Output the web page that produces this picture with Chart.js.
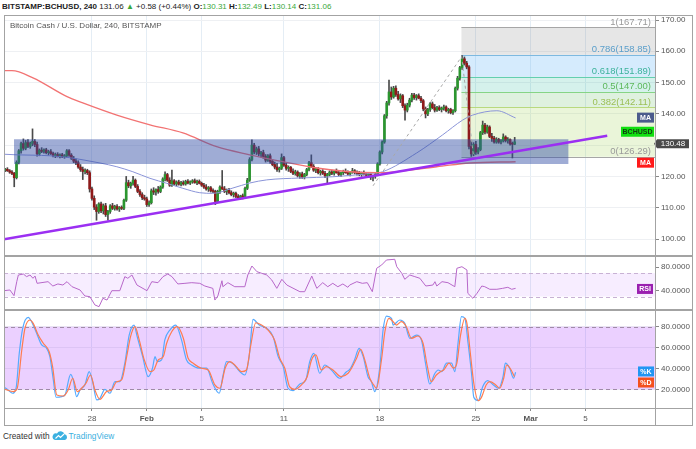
<!DOCTYPE html>
<html>
<head>
<meta charset="utf-8">
<script src="https://cdn.jsdelivr.net/npm/chart.js@4.4.0/dist/chart.umd.min.js"></script>
<style>
  body { margin:0; background:#fff; width:696px; height:449px; overflow:hidden; position:relative;
         font-family:"Liberation Sans", Arial, sans-serif; }
  .pane { position:absolute; left:4px; width:688px; }
  #mainWrap { top:15px; height:241px; }
  #rsiWrap { top:256px; height:54px; }
  #stochWrap { top:310px; height:115px; }
  .ln { position:absolute; background:#a3a3a3; z-index:5; }
  #frame { position:absolute; left:4px; top:15px; width:687px; height:409px; border:1px solid #a3a3a3; z-index:5; }
  #hdr { position:absolute; left:2px; top:2px; font-size:8px; white-space:nowrap; color:#222; }
  #hdr .g { color:#3aa83a; }
  #title { position:absolute; left:10px; top:21px; font-size:8px; color:#555; z-index:6; }
  #foot { position:absolute; left:3px; top:431px; font-size:8.3px; color:#333; white-space:nowrap; }
  #foot .tv { color:#3bb0e0; }
  #foot svg { vertical-align:-2px; margin:0 1px 0 2px; }
</style>
</head>
<body>
<div id="hdr"><b>BITSTAMP:BCHUSD, 240</b> 131.06 <span class="g">&#9650;</span> +0.58 (+0.44%) <b>O:</b><span class="g">130.31</span> <b>H:</b><span class="g">132.49</span> <b>L:</b><span class="g">130.14</span> <b>C:</b><span class="g">131.06</span></div>
<div id="title">Bitcoin Cash / U.S. Dollar, 240, BITSTAMP</div>

<div class="pane" id="mainWrap"><canvas id="main"></canvas></div>
<div class="pane" id="rsiWrap"><canvas id="rsi"></canvas></div>
<div class="pane" id="stochWrap"><canvas id="stoch"></canvas></div>

<div id="frame"></div>
<div class="ln" style="left:655px;top:15px;width:1px;height:410px"></div>
<div class="ln" style="left:4px;top:255px;width:688px;height:2px"></div>
<div class="ln" style="left:4px;top:309px;width:688px;height:2px"></div>
<div class="ln" style="left:4px;top:408px;width:688px;height:1px"></div>

<div id="foot">Created with<svg width="16" height="10" viewBox="0 0 16 10"><path d="M3 9 H13 A3 3 0 0 0 12.5 3.2 A4 4 0 0 0 5 2.5 A3.3 3.3 0 0 0 3 9 Z" fill="#3bb0e0"/><path d="M3.5 7.5 L6.5 4.5 L8.5 6.5 L12 3" stroke="#fff" stroke-width="1.1" fill="none"/></svg><span class="tv">TradingView</span></div>

<script>
/* DATA */
// bar index 0 = Jan 21 16:00, one bar = 4 hours
const candles = [ // [open, high, low, close]
[122.0,122.6,121.5,122.3],[122.3,122.8,121.6,121.8],[121.8,122.2,121.0,121.4],[121.4,121.9,120.6,121.0],[121.0,121.3,116.7,119.6],[119.6,125.0,119.2,124.5],
[124.5,128.6,124.0,128.2],[128.2,131.0,127.4,130.5],[130.5,132.0,128.4,129.0],[129.0,131.5,128.5,130.8],[130.8,131.8,129.2,129.6],[129.6,131.0,129.0,130.6],
[130.6,135.2,129.8,131.2],[131.2,131.8,129.5,130.2],[130.2,131.0,126.5,127.2],[127.2,128.8,126.6,128.4],[128.4,129.2,127.6,128.0],[128.0,128.8,127.4,128.5],
[128.5,129.0,127.2,127.6],[127.6,128.4,126.8,127.9],[127.9,128.6,127.0,127.3],[127.3,127.8,126.2,126.6],[126.6,127.5,126.0,127.0],[127.0,127.6,126.2,126.4],
[126.4,127.2,125.9,126.9],[126.9,127.4,126.0,126.3],[126.3,127.0,125.8,126.6],[126.6,128.6,126.2,128.2],[128.2,128.6,126.4,126.8],[126.8,127.3,125.4,125.8],
[125.8,126.4,124.4,124.9],[124.9,125.6,123.8,124.4],[124.4,125.0,122.6,123.0],[123.0,123.8,121.6,122.2],[122.2,123.0,119.0,121.6],[121.6,122.4,120.8,121.9],
[121.9,122.3,120.6,121.2],[121.2,121.8,115.0,116.0],[116.0,116.6,112.4,113.0],[113.0,113.8,109.4,110.2],[110.2,111.0,106.0,108.8],[108.8,111.6,108.2,111.2],
[111.2,111.8,108.4,109.0],[109.0,111.2,108.0,110.6],[110.6,111.4,107.2,107.8],[107.8,109.2,106.0,108.8],[108.8,111.0,108.2,110.6],[110.6,111.4,109.4,109.8],
[109.8,110.8,109.2,110.4],[110.4,111.0,109.2,109.6],[109.6,110.4,108.8,110.0],[110.0,110.6,109.4,109.8],[109.8,112.8,109.4,112.4],[112.4,120.0,112.0,118.0],
[118.0,118.8,116.4,117.0],[117.0,118.2,116.2,117.8],[117.8,120.0,117.2,118.8],[118.8,119.2,116.4,116.8],[116.8,117.4,114.8,115.2],[115.2,115.8,113.6,114.2],
[114.2,114.8,112.6,113.2],[113.2,114.0,112.4,112.8],[112.8,113.4,110.4,111.0],[111.0,112.2,110.4,111.6],[111.6,116.0,111.2,115.4],[115.4,116.4,114.2,115.0],
[115.0,116.0,114.0,115.8],[115.8,116.8,114.6,115.2],[115.2,117.0,114.8,116.6],[116.6,119.6,116.2,119.2],[119.2,121.5,118.6,120.6],[120.6,121.0,118.4,118.8],
[118.8,119.6,116.8,117.2],[117.2,122.0,116.8,118.6],[118.6,119.0,117.2,117.6],[117.6,118.6,117.0,118.2],[118.2,118.8,117.2,117.5],[117.5,118.4,117.0,118.0],
[118.0,118.6,117.2,117.6],[117.6,118.8,117.2,118.4],[118.4,119.0,117.6,117.9],[117.9,118.6,117.4,118.3],[118.3,119.0,117.8,118.6],[118.6,119.2,117.8,118.0],
[118.0,118.8,117.4,118.4],[118.4,118.9,117.6,117.8],[117.8,118.2,116.8,117.2],[117.2,117.8,116.2,116.6],[116.6,117.4,115.6,116.0],[116.0,116.8,115.2,116.4],
[116.4,116.8,115.0,115.4],[115.4,116.0,114.8,115.2],[115.2,115.6,111.0,112.0],[112.0,115.6,111.6,115.2],[115.2,117.0,114.6,116.6],[116.6,121.9,115.8,116.0],
[116.0,116.8,114.8,115.2],[115.2,116.0,114.2,115.6],[115.6,116.2,114.4,114.8],[114.8,115.4,113.8,114.2],[114.2,115.0,113.4,114.6],[114.6,115.0,113.2,113.6],
[113.6,114.2,112.8,113.2],[113.2,114.0,112.6,113.8],[113.8,114.4,112.8,113.4],[113.4,116.6,113.0,116.2],[116.2,119.4,115.8,118.8],[118.8,126.0,118.4,125.4],
[125.4,131.7,125.0,130.0],[130.0,130.6,127.2,127.8],[127.8,129.4,127.0,128.8],[128.8,129.6,126.6,127.2],[127.2,128.0,126.2,127.6],[127.6,128.4,125.8,126.4],
[126.4,127.0,124.6,125.2],[125.2,127.0,124.8,126.6],[126.6,127.2,124.2,124.8],[124.8,125.4,123.4,123.8],[123.8,124.6,122.4,123.0],[123.0,124.2,121.6,122.2],
[122.2,123.0,121.4,122.6],[122.6,127.2,122.2,126.0],[126.0,126.4,123.2,123.6],[123.6,124.2,122.0,122.6],[122.6,123.4,121.6,122.9],[122.9,123.2,121.2,121.6],
[121.6,122.4,120.6,121.0],[121.0,122.0,120.4,121.4],[121.4,121.8,119.8,120.2],[120.2,121.2,119.4,120.8],[120.8,121.4,119.4,119.8],[119.8,121.0,119.2,120.6],
[120.6,122.6,120.2,122.2],[122.2,124.8,121.8,124.4],[124.4,126.9,122.8,123.2],[123.2,123.8,121.6,122.0],[122.0,122.8,121.2,122.4],[122.4,122.8,120.8,121.2],
[121.2,122.0,120.4,121.6],[121.6,122.2,120.6,121.0],[121.0,121.6,119.6,120.2],[120.2,121.0,118.0,120.6],[120.6,121.8,120.2,121.4],[121.4,122.0,120.6,121.0],
[121.0,121.8,120.4,121.6],[121.6,122.4,121.0,121.2],[121.2,121.8,120.2,120.6],[120.6,121.4,120.0,121.2],[121.2,122.0,120.6,121.6],[121.6,122.4,121.0,121.2],
[121.2,121.8,120.4,120.8],[120.8,121.6,120.2,121.4],[121.4,122.6,121.0,121.8],[121.8,122.2,120.8,121.2],[121.2,121.8,120.4,121.0],[121.0,121.6,120.2,120.6],
[120.6,121.4,120.0,121.2],[121.2,121.8,120.4,120.8],[120.8,121.2,119.8,120.4],[120.4,121.0,119.6,120.6],[120.6,121.0,119.0,119.8],[119.8,120.4,118.6,120.2],
[120.2,121.0,119.4,120.6],[120.6,124.4,120.2,124.0],[124.0,128.2,123.6,127.8],[127.8,131.4,127.2,131.0],[131.0,139.8,130.6,139.4],[139.4,144.0,138.6,143.5],
[143.5,150.8,142.8,147.0],[147.0,148.6,144.6,145.4],[145.4,148.8,145.0,148.2],[148.2,149.0,145.6,146.2],[146.2,147.2,144.4,144.8],[144.8,146.4,143.6,145.8],
[145.8,146.2,142.0,142.6],[142.6,143.2,138.0,141.2],[141.2,143.4,140.6,142.8],[142.8,145.0,142.2,144.4],[144.4,146.6,143.8,146.0],[146.0,146.6,144.6,145.2],
[145.2,146.2,144.4,145.8],[145.8,146.4,144.8,145.0],[145.0,145.6,143.6,144.2],[144.2,144.6,141.0,141.6],[141.6,142.2,138.7,140.0],[140.0,141.8,139.4,141.4],
[141.4,143.6,140.8,143.2],[143.2,143.8,141.6,142.0],[142.0,143.0,140.6,141.2],[141.2,142.4,140.8,142.0],[142.0,142.6,141.0,141.4],[141.4,142.2,140.6,141.8],
[141.8,142.8,141.2,142.2],[142.2,142.6,140.6,141.0],[141.0,141.8,140.2,141.4],[141.4,141.8,140.0,140.4],[140.4,141.4,139.8,141.0],[141.0,148.6,140.6,148.2],
[148.2,152.0,147.6,151.4],[151.4,155.2,150.8,154.8],[154.8,158.6,154.2,157.6],[157.6,158.2,155.6,156.2],[156.2,156.8,154.4,155.0],[155.0,155.4,128.8,129.6],
[129.6,131.4,126.4,127.2],[127.2,130.8,126.6,130.2],[130.2,131.2,127.0,127.8],[127.8,129.2,127.2,128.6],[128.6,134.4,128.2,134.0],[134.0,137.7,133.4,136.4],
[136.4,137.0,133.6,134.2],[134.2,136.4,133.8,135.8],[135.8,136.2,132.4,132.8],[132.8,133.8,131.2,132.2],[132.2,132.8,130.6,131.0],[131.0,132.4,130.6,131.8],
[131.8,132.2,130.6,131.0],[131.0,131.8,130.4,131.4],[131.4,133.6,131.0,132.6],[132.6,133.0,131.0,131.4],[131.4,132.4,130.6,131.8],[131.8,132.0,130.0,130.4],
[130.4,131.0,125.9,130.3],[130.31,132.49,130.14,131.06]
];

// moving averages: [bar, price]
const maBlue = [[-0.5,127.1],[5.2,126.9],[12.2,126.8],[19.6,126.6],[27.1,126.1],[34.1,125.3],[41.5,124.3],[48.9,123.1],[55.9,121.5],[63.4,119.4],[70.8,117.8],[77.8,116.2],[85.2,114.8],[90.9,114.6],[99.7,116.3],[107.1,117.9],[114.5,118.9],[129,119.5],[143.4,119.9],[150.8,120.3],[160.4,121],[165.2,121.5],[180.1,127.5],[191.5,133.3],[200.2,138],[204.6,139.6],[215.2,141],[223.4,138.7]];
const maRed = [[-0.5,153.8],[3,153.8],[12.2,151.5],[27.1,145.5],[34,143.5],[48.9,139.6],[63.4,136.5],[77.8,133.9],[92.6,129.5],[107.1,126.9],[121.5,124.7],[136.4,122.7],[150.8,121.5],[163,121.2],[188.9,123.1],[203.3,124.3],[223.4,124.7]];

// drawings
const trendBars = [-0.48, 263.5], trendPrices = [99.9, 133.0];
const zoneBars = [3.9, 246.6], zonePrices = [131.9, 124.0];
const fibGuideBars = [161, 199.8, 205], fibGuidePrices = [117, 158.3, 126.3];
const fibStartBar = 199.7;
const fibRatios = [1, 0.786, 0.618, 0.5, 0.382, 0];
const fibPrices = [167.71, 158.85, 151.89, 147.00, 142.11, 126.29];

// indicators: [bar, value]
const rsiPts = [[-0.5,40],[2.1,41.2],[3.9,31.5],[5.1,55.4],[5.8,66.8],[8,68.5],[9.4,64],[10.9,66.8],[12.2,61.2],[13.1,65],[14,52.6],[18.8,55.4],[20.9,48],[23.1,51.5],[25.3,49.7],[27.1,55.4],[29.3,46.8],[32.8,41.2],[34.9,31],[37.1,29.8],[39.3,15.6],[41.1,12.7],[42.8,27],[44.6,24],[46.7,40],[50.2,40],[52.4,64],[53.7,61.2],[55.5,66.8],[57.7,49.7],[62.1,40],[64.2,55.4],[66.9,53.7],[69.1,64],[71.2,68.5],[73,64],[75.6,51.5],[78.7,52.6],[81.7,53.7],[85.2,52.6],[87.4,48],[90.9,44],[91.8,24],[93.1,31],[94.9,57],[95.3,46.8],[97.5,53.7],[100.5,46.8],[104.9,46.8],[106.2,66.8],[108,82.2],[110.2,72.5],[112.3,69.7],[114.5,66.8],[116.7,58.3],[118.9,44],[121.1,59.5],[123.3,49.7],[129,38.3],[131.1,38.3],[134.2,65],[136.4,44],[139,53.7],[141.2,46.8],[143.4,52.6],[145.6,46.8],[147.8,51.5],[150,45.8],[150.8,49.7],[153.9,55.4],[156.3,52.6],[158.5,53.7],[160.7,38.3],[162.6,78.3],[164.8,84],[166.9,92.5],[170.5,93.7],[171.4,81],[173.6,69.7],[174.9,59.5],[177.1,66.8],[179.3,64],[181.5,61.2],[184.1,48],[187.2,49.7],[188.1,55.4],[188.9,48],[191.2,55.4],[193.8,53.7],[196.8,46.8],[197.7,78.3],[199.9,81],[202.1,75.4],[202.5,35.5],[204.7,27],[206.5,35.5],[208.6,48],[209.9,46.8],[212.1,42.4],[215.2,42.4],[217.7,44],[220,45.8],[221.7,42.4],[223.4,44]];
const stochK = [[-0.5,22],[1.3,19.4],[3.3,16.2],[4.8,21],[6.2,54.5],[7.7,78.5],[10.1,89],[11.6,84.8],[13.8,73.7],[16,62.5],[18.2,59.3],[19.6,51.3],[21.1,29],[22.3,12.4],[24.8,13],[26.2,14.6],[28.7,34.4],[29.8,29],[31.3,13],[32.8,19.4],[34.9,24.2],[36.8,36.9],[38.3,27.3],[40.1,9.8],[41.5,11.4],[43.7,20],[45.9,16.2],[48.1,27.3],[50.2,27.3],[52.4,45],[54.3,72],[56.4,81.6],[57.8,70.4],[60.2,51.3],[62.6,32.1],[64.5,40.2],[65.6,51.3],[66.6,46.5],[68.5,48.1],[69.9,67.3],[72.1,76.8],[74.7,81.6],[77.2,67.3],[79.4,48.1],[81.6,43.3],[85.2,40.2],[88.2,40.2],[90.8,25.8],[93.7,16.2],[95.4,33.7],[96.9,46.5],[99.5,45],[102.7,36.9],[104.9,33.7],[106.8,51.3],[108.5,87],[111.2,81.6],[114.4,78.5],[117.3,70.4],[119.5,51.3],[121.7,41.7],[123.8,21],[126,18.7],[129,25.1],[131.6,29],[133.3,46.5],[135.1,54.5],[137.7,35.4],[139.9,43.3],[142.8,38.5],[146.4,30.6],[149.4,36.9],[150.8,39],[152.9,48.1],[154.9,59.3],[156.7,51.3],[158.8,32.1],[160.3,27.3],[161.8,17.8],[164,41.7],[165.4,76.8],[166.9,90.2],[169.1,88],[169.8,81.6],[172.7,86.4],[174.9,83.2],[177.1,68.9],[180,72],[182.2,67.3],[184.1,43.3],[185.8,25.1],[188.1,35.4],[189.5,38.5],[191,36.9],[193.2,45],[195.4,45],[196.8,36.9],[198.2,64.1],[199.7,89.6],[201.2,88],[202.6,64.1],[204.1,35.4],[205.1,12.4],[207.1,9.1],[209,22.5],[211.2,28.3],[213.7,24.2],[216,21],[217.9,32.1],[218.9,45],[220.8,40.2],[222.5,30.6],[223.4,36.3]];
const stochD = [[0,20],[3.6,17.8],[5.3,21],[7.3,57.7],[8.7,78.5],[10.9,86.4],[12.3,83.2],[14.5,72],[16.7,64.1],[19.3,56],[20.8,41.4],[22.6,14.6],[25.5,13.6],[27.6,19.4],[29.6,30.6],[31.6,17.8],[33.5,21],[35.4,25.8],[37.4,33.7],[39.3,19.4],[41.5,10.4],[44.4,17.8],[46.6,19.4],[48.8,27.3],[51,29],[53.2,51.3],[54.9,70.4],[56.8,80],[58.7,67.3],[60.7,49.7],[63.4,36.9],[65.1,38.5],[67,48.1],[69.2,51.3],[70.7,64.1],[72.9,75.2],[75.3,80],[78,68.9],[80.1,49.7],[82.3,45],[86,40.2],[88.9,38.5],[91.8,24.2],[94,21],[96.3,40.2],[98.3,46.5],[100.5,43.3],[103.5,36.9],[105.6,38.5],[107.4,60.8],[109.7,83.8],[112.2,81.6],[115.1,76.8],[117.9,67.3],[120.2,49.7],[122.4,40.2],[124.5,22.5],[126.8,20],[129.7,24.2],[132.2,32.1],[134.1,48.1],[136,52.9],[138.4,38.5],[140.6,41.7],[143.5,38.5],[147,32.1],[150.1,35.4],[151.6,40.2],[153.8,49.7],[155.6,58.4],[157.4,48.1],[159.6,30.6],[161.3,24.2],[162.5,21],[164.7,48.1],[166.2,75.2],[168,88],[169.8,84.8],[171.2,81.6],[173.4,84.8],[175.6,80],[177.8,68.9],[180.7,71.1],[182.9,64.1],[184.8,41.7],[186.5,27.3],[188.7,33.7],[190.5,36.9],[191.9,38.5],[194.3,45],[196.2,40.2],[197.7,45],[199.2,70.4],[201.2,88],[202.1,83.2],[203.6,54.5],[205.1,25.8],[207.1,9.1],[208.6,13],[210.5,24.2],[212.1,27.3],[214.7,24.2],[216.4,21],[218.2,30.6],[219.5,43.3],[221,40.2],[222.9,32.1]];

// axes
const dateTicks = [38, 62, 86, 122, 164, 206, 230, 254];
const dateLabels = ['28', 'Feb', '5', '11', '18', '25', 'Mar', '5'];
const priceTicks = [100, 110, 120, 130, 140, 150, 160, 170];
const rsiTicks = [80, 40];
const stochTicks = [80, 60, 40, 20];
const X_MIN = -0.48, X_MAX = 284.4;

/* STYLE */
const FONT = '"Liberation Sans", Arial, sans-serif';
Chart.defaults.font.family = FONT;
const UP = '#2b962f', DOWN = '#8f1a1a', WICK = '#4a4a4a';

const pts = (arr)=>arr.map(p=>({x:p[0], y:p[1]}));
const pair = (xs, ys)=>xs.map((x,i)=>({x, y:ys[i]}));

function xAxis(showLabels){
  return {
    type:'linear', min:X_MIN, max:X_MAX, offset:false,
    afterBuildTicks: s=>{ s.ticks = dateTicks.map(v=>({value:v})); },
    afterFit: s=>{ s.height = showLabels ? 17 : 0; s.paddingLeft = 0; s.paddingRight = 0; },
    grid:{ color:'#e4edf5', offset:false, drawTicks:showLabels, tickLength:3, tickColor:'#888' },
    border:{ display:false },
    ticks:{
      display:showLabels, maxRotation:0, autoSkip:false, padding:3, color:'#555',
      callback: v=>dateLabels[dateTicks.indexOf(v)],
      font: c=>({ size:8, family:FONT, weight: (c.tick && /[A-Z]/.test(c.tick.label)) ? 'bold' : 'normal' })
    }
  };
}
function yAxis(min, max, ticks, digits, gridOn){
  return {
    position:'right', min, max,
    afterBuildTicks: s=>{ s.ticks = ticks.map(v=>({value:v})); },
    afterFit: s=>{ s.width = 37; s.paddingTop = 0; s.paddingBottom = 0; },
    grid:{ color:'#eef0f3', drawOnChartArea:gridOn, tickLength:4, tickColor:'#888' },
    border:{ display:false },
    ticks:{ color:'#555', padding:2, font:{ size:8, family:FONT }, callback: v=>v.toFixed(digits) }
  };
}
function tag(ctx, x, yc, w, h, bg, fg, text, opts={}){
  ctx.save();
  ctx.fillStyle = bg;
  ctx.beginPath();
  if(opts.pointer){
    ctx.moveTo(x-3, yc); ctx.lineTo(x, yc-h/2); ctx.lineTo(x+w, yc-h/2);
    ctx.lineTo(x+w, yc+h/2); ctx.lineTo(x, yc+h/2); ctx.closePath();
  } else ctx.rect(x, yc-h/2, w, h);
  ctx.fill();
  ctx.fillStyle = fg;
  ctx.font = (opts.bold===false ? '' : 'bold ') + (opts.size||7) + 'px ' + FONT;
  ctx.textAlign = 'center'; ctx.textBaseline = 'middle';
  ctx.fillText(text, x+w/2, yc+0.5);
  ctx.restore();
}
function bandPlugin(lo, hi, fill, dash){
  return {
    id:'band',
    beforeDatasetsDraw(chart){
      const {ctx, chartArea:a, scales:{y}} = chart;
      const y1 = y.getPixelForValue(hi), y2 = y.getPixelForValue(lo);
      ctx.save();
      ctx.fillStyle = fill;
      ctx.fillRect(a.left, y1, a.right-a.left, y2-y1);
      ctx.strokeStyle = dash; ctx.lineWidth = 1; ctx.setLineDash([4,3]);
      [y1, y2].forEach(yy=>{ ctx.beginPath(); ctx.moveTo(a.left, Math.round(yy)+0.5); ctx.lineTo(a.right, Math.round(yy)+0.5); ctx.stroke(); });
      ctx.restore();
    }
  };
}

/* MAIN PANE */
const fibFills = ['rgba(128,128,128,0.2)','rgba(100,181,246,0.27)','rgba(8,170,140,0.17)','rgba(76,175,80,0.18)','rgba(160,210,80,0.22)'];
const fibLine = ['#a6a6a6','#7db9e0','#63cfb0','#86d486','#b9d97e','#a6a6a6'];
const fibText = ['#9a9a9a','#5b9fcb','#3db39b','#5cb85c','#9cbf55','#9a9a9a'];

const fibPlugin = {
  id:'fib',
  beforeDatasetsDraw(chart){
    const {ctx, chartArea:a, scales:{x,y}} = chart;
    const x0 = x.getPixelForValue(fibStartBar);
    ctx.save();
    for(let k=0;k<fibPrices.length-1;k++){
      const t = y.getPixelForValue(fibPrices[k]), b = y.getPixelForValue(fibPrices[k+1]);
      ctx.fillStyle = fibFills[k];
      ctx.fillRect(x0, t, a.right-x0, b-t);
    }
    fibPrices.forEach((p,k)=>{
      const yy = Math.round(y.getPixelForValue(p))+0.5;
      ctx.strokeStyle = fibLine[k]; ctx.lineWidth = 1;
      ctx.beginPath(); ctx.moveTo(x0, yy); ctx.lineTo(a.right, yy); ctx.stroke();
    });
    ctx.restore();
  },
  afterDatasetsDraw(chart){
    const {ctx, chartArea:a, scales:{y}} = chart;
    ctx.save();
    ctx.font = '9.5px ' + FONT; ctx.textAlign = 'right'; ctx.textBaseline = 'bottom';
    fibPrices.forEach((p,k)=>{
      ctx.fillStyle = fibText[k];
      ctx.fillText(fibRatios[k] + '(' + p.toFixed(2) + ')', a.right-4, y.getPixelForValue(p)-0.5);
    });
    ctx.restore();
  }
};
const mainLabels = {
  id:'mainLabels',
  afterDraw(chart){
    const {ctx, chartArea:a, scales:{y}} = chart;
    tag(ctx, a.right-18, y.getPixelForValue(138.8), 17, 10, '#4b5b8c', '#fff', 'MA');
    tag(ctx, a.right-34, y.getPixelForValue(134.3), 33, 10, '#10e010', '#123d12', 'BCHUSD');
    tag(ctx, a.right-18, y.getPixelForValue(124.4), 17, 10, '#ff1a1a', '#fff', 'MA');
    tag(ctx, a.right+2, y.getPixelForValue(130.48), 32, 9, '#4a4a4a', '#fff', '130.48', {pointer:true, bold:false, size:8});
  }
};

new Chart(document.getElementById('main'), {
  type:'bar',
  data:{ datasets:[
    { type:'bar', data:candles.map((c,i)=>({x:i, y:[c[2], c[1]]})), backgroundColor:WICK,
      barThickness:1, grouped:false, order:10 },
    { type:'bar', data:candles.map((c,i)=>({x:i, y:[c[0], c[3]]})),
      backgroundColor:candles.map(c=>c[3]>=c[0]?UP:DOWN), barThickness:2, minBarLength:1, grouped:false, order:9 },
    { type:'line', data:pts(maBlue), borderColor:'#8a94d8', borderWidth:1, pointRadius:0, cubicInterpolationMode:'monotone', order:8 },
    { type:'line', data:pts(maRed), borderColor:'#f27373', borderWidth:1.3, pointRadius:0, cubicInterpolationMode:'monotone', order:7 },
    { type:'line', data:pair(zoneBars, [zonePrices[0], zonePrices[0]]), borderWidth:0, pointRadius:0,
      fill:'+1', backgroundColor:'rgba(52,78,165,0.47)', order:6 },
    { type:'line', data:pair(zoneBars, [zonePrices[1], zonePrices[1]]), borderWidth:0, pointRadius:0, order:5 },
    { type:'line', data:pair(fibGuideBars, fibGuidePrices), borderColor:'#a8a8a8', borderWidth:1, borderDash:[3,3], pointRadius:0, order:4 },
    { type:'line', data:pair(trendBars, trendPrices), borderColor:'#9b2ff2', borderWidth:2.5, pointRadius:0, order:1 }
  ]},
  options:{
    responsive:true, maintainAspectRatio:false, animation:false, events:[], devicePixelRatio:1,
    layout:{ padding:0 },
    plugins:{ legend:{display:false}, tooltip:{enabled:false} },
    scales:{ x:xAxis(false), y:yAxis(94.57, 171.6, priceTicks, 2, true) }
  },
  plugins:[fibPlugin, mainLabels]
});

/* RSI PANE */
new Chart(document.getElementById('rsi'), {
  type:'line',
  data:{ datasets:[
    { data:pts(rsiPts), borderColor:'#b767c9', borderWidth:1, pointRadius:0, tension:0 }
  ]},
  options:{
    responsive:true, maintainAspectRatio:false, animation:false, events:[], devicePixelRatio:1,
    layout:{ padding:0 },
    plugins:{ legend:{display:false}, tooltip:{enabled:false} },
    scales:{ x:xAxis(false), y:yAxis(7.0, 99.3, rsiTicks, 4, false) }
  },
  plugins:[bandPlugin(30, 70, 'rgba(153,21,255,0.08)', '#c8b2d4'), {
    id:'rsiTag', afterDraw(chart){ const {ctx, chartArea:a, scales:{y}} = chart;
      tag(ctx, a.right-18, y.getPixelForValue(43), 16, 10, '#9a1fb0', '#fff', 'RSI'); }
  }]
});

/* STOCH PANE */
new Chart(document.getElementById('stoch'), {
  type:'line',
  data:{ datasets:[
    { data:pts(stochD), borderColor:'#ff7b4f', borderWidth:1.2, pointRadius:0, cubicInterpolationMode:'monotone' },
    { data:pts(stochK), borderColor:'#55aaff', borderWidth:1.2, pointRadius:0, cubicInterpolationMode:'monotone' }
  ]},
  options:{
    responsive:true, maintainAspectRatio:false, animation:false, events:[], devicePixelRatio:1,
    layout:{ padding:0 },
    plugins:{ legend:{display:false}, tooltip:{enabled:false} },
    scales:{ x:xAxis(true), y:yAxis(2.08, 96.0, stochTicks, 4, true) }
  },
  plugins:[bandPlugin(20, 80, 'rgba(153,21,255,0.2)', '#a08aa8'), {
    id:'stochTag', afterDraw(chart){ const {ctx, chartArea:a, scales:{y}} = chart;
      tag(ctx, a.right-17, y.getPixelForValue(37.1), 16, 10, '#2196f3', '#fff', '%K');
      tag(ctx, a.right-17, y.getPixelForValue(26.5), 16, 10, '#f4511e', '#fff', '%D'); }
  }]
});
</script>
</body>
</html>
